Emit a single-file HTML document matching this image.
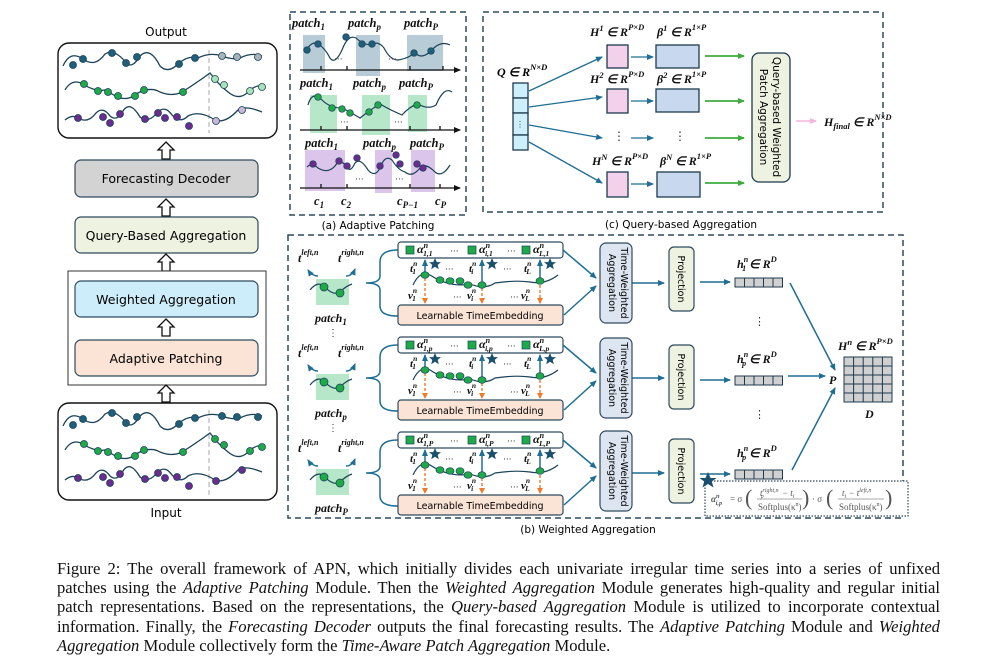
<!DOCTYPE html>
<html><head><meta charset="utf-8"><style>
html,body{margin:0;padding:0;background:#fff;}
#w{position:relative;width:984px;height:669px;overflow:hidden;}
svg{position:absolute;left:0;top:0;}
.cap{position:absolute;left:57px;width:883px;font-family:"Liberation Serif",serif;font-size:16.6px;color:#111;white-space:nowrap;text-align:justify;text-align-last:justify;line-height:19px;}
.cap i{font-style:italic;}
.l{font-family:"DejaVu Sans","Liberation Sans",sans-serif;}
.m{font-family:"Liberation Serif",serif;font-weight:bold;font-style:italic;}
</style></head><body><div id="w">
<svg width="984" height="669" viewBox="0 0 984 669" xmlns="http://www.w3.org/2000/svg">
<defs>
<marker id="ab" markerWidth="8" markerHeight="8" refX="6" refY="3" orient="auto" markerUnits="userSpaceOnUse"><path d="M0,0 L7,3 L0,6 z" fill="#1f6f94"/></marker>
<marker id="ag" markerWidth="8" markerHeight="8" refX="6" refY="3" orient="auto" markerUnits="userSpaceOnUse"><path d="M0,0 L7,3 L0,6 z" fill="#3cab3c"/></marker>
<marker id="ap" markerWidth="8" markerHeight="8" refX="6" refY="3" orient="auto" markerUnits="userSpaceOnUse"><path d="M0,0 L7,3 L0,6 z" fill="#f3b6dc"/></marker>
<marker id="ao" markerWidth="8" markerHeight="8" refX="5" refY="3" orient="auto" markerUnits="userSpaceOnUse"><path d="M0,0 L6,3 L0,6 z" fill="#f07a2a"/></marker>
<marker id="ak" markerWidth="8" markerHeight="8" refX="6" refY="3" orient="auto" markerUnits="userSpaceOnUse"><path d="M0,0 L7,3 L0,6 z" fill="#111"/></marker>
<path id="harrow" d="M0,-9 L8,-1 L4,-1 L4,8 L-4,8 L-4,-1 L-8,-1 z" fill="#fff" stroke="#111" stroke-width="1.3"/>
<path id="star" d="M0,-6 L1.8,-1.9 L6,-1.9 L2.7,0.9 L3.8,5.3 L0,2.7 L-3.8,5.3 L-2.7,0.9 L-6,-1.9 L-1.8,-1.9 z" fill="#1b4f6e"/>
</defs>

<!-- LEFT PANEL -->
<text x="166" y="36" text-anchor="middle" class="l" font-size="12">Output</text>
<rect x="58" y="43" width="219" height="95" rx="11" fill="#fff" stroke="#111" stroke-width="1.4"/>
<line x1="209" y1="50" x2="209" y2="133" stroke="#aaa" stroke-dasharray="5,3"/>
<g fill="none" stroke="#1b4258" stroke-width="1.3">
<path d="M63,66 Q70,50 83,59 Q95,68 105,54 Q115,48 127,64 Q133,68 140,56 Q150,46 160,66 Q168,74 178,64 Q188,55 198,58 Q210,52 222,56 Q232,60 240,58 Q252,52 262,56"/>
<path d="M65,90 Q72,78 83,84 Q95,92 105,90 Q115,96 120,98 Q130,100 136,94 Q150,86 160,92 Q172,97 182,92 Q195,84 210,73 Q218,84 228,92 Q240,102 250,90 Q258,84 265,86"/>
<path d="M65,120 Q72,114 78,118 Q88,124 96,113 Q103,106 110,116 Q117,122 123,111 Q130,100 140,117 Q148,124 158,112 Q165,105 172,115 Q180,124 188,116 Q200,110 215,120 Q225,124 238,110 Q245,105 262,112"/>
</g>
<g stroke="#1b4258" stroke-width="0.8">
<g fill="#1f5f7a"><circle cx="73" cy="65" r="3.5"/><circle cx="83" cy="59" r="3.5"/><circle cx="112" cy="53" r="3.5"/><circle cx="126" cy="63" r="3.5"/><circle cx="137" cy="57" r="3.5"/><circle cx="179" cy="64" r="3.5"/><circle cx="195" cy="58" r="3.5"/></g>
<g fill="#a6b3bd"><circle cx="222" cy="56" r="3.5"/><circle cx="237" cy="57" r="3.5"/><circle cx="258" cy="57" r="3.5"/></g>
<g fill="#1faa4a"><circle cx="84" cy="84" r="3.5"/><circle cx="98" cy="91" r="3.5"/><circle cx="108" cy="92" r="3.5"/><circle cx="118" cy="96" r="3.5"/><circle cx="135" cy="96" r="3.5"/><circle cx="144" cy="90" r="3.5"/><circle cx="183" cy="92" r="3.5"/></g>
<g fill="#a7e3b9"><circle cx="215" cy="79" r="3.5"/><circle cx="224" cy="85" r="3.5"/><circle cx="250" cy="91" r="3.5"/><circle cx="262" cy="87" r="3.5"/></g>
<g fill="#6a2c91"><circle cx="78" cy="118" r="3.5"/><circle cx="103" cy="117" r="3.5"/><circle cx="110" cy="123" r="3.5"/><circle cx="120" cy="114" r="3.5"/><circle cx="145" cy="119" r="3.5"/><circle cx="158" cy="113" r="3.5"/><circle cx="165" cy="118" r="3.5"/><circle cx="177" cy="117" r="3.5"/><circle cx="189" cy="126" r="3.5"/></g>
<g fill="#c9b5da"><circle cx="216" cy="121" r="3.5"/><circle cx="242" cy="110" r="3.5"/></g>
</g>

<use href="#harrow" x="166" y="151"/>
<rect x="75" y="160" width="183" height="37" rx="6" fill="#d3d3d3" stroke="#2e4a5e" stroke-width="1.2"/>
<text x="166" y="183" text-anchor="middle" class="l" font-size="12.5">Forecasting Decoder</text>
<use href="#harrow" x="166" y="208"/>
<rect x="75" y="217" width="183" height="36" rx="6" fill="#eef2e1" stroke="#2e4a5e" stroke-width="1.2"/>
<text x="166" y="240" text-anchor="middle" class="l" font-size="12.5">Query-Based Aggregation</text>
<use href="#harrow" x="166" y="263"/>
<rect x="68" y="271" width="198" height="114" fill="#fff" stroke="#333" stroke-width="1"/>
<rect x="75" y="281" width="183" height="36" rx="6" fill="#cdedfa" stroke="#2e4a5e" stroke-width="1.2"/>
<text x="166" y="304" text-anchor="middle" class="l" font-size="12.5">Weighted Aggregation</text>
<use href="#harrow" x="166" y="328"/>
<rect x="75" y="340" width="183" height="36" rx="6" fill="#fbe3d6" stroke="#2e4a5e" stroke-width="1.2"/>
<text x="166" y="363" text-anchor="middle" class="l" font-size="12.5">Adaptive Patching</text>
<use href="#harrow" x="166" y="394"/>

<rect x="58" y="403" width="219" height="97" rx="11" fill="#fff" stroke="#111" stroke-width="1.4"/>
<line x1="209" y1="410" x2="209" y2="495" stroke="#aaa" stroke-dasharray="5,3"/>
<g transform="translate(0,360)">
<g fill="none" stroke="#1b4258" stroke-width="1.3">
<path d="M63,66 Q70,50 83,59 Q95,68 105,54 Q115,48 127,64 Q133,68 140,56 Q150,46 160,66 Q168,74 178,64 Q188,55 198,58 Q210,52 222,56 Q232,60 240,58 Q252,52 262,56"/>
<path d="M65,90 Q72,78 83,84 Q95,92 105,90 Q115,96 120,98 Q130,100 136,94 Q150,86 160,92 Q172,97 182,92 Q195,84 210,73 Q218,84 228,92 Q240,102 250,90 Q258,84 265,86"/>
<path d="M65,120 Q72,114 78,118 Q88,124 96,113 Q103,106 110,116 Q117,122 123,111 Q130,100 140,117 Q148,124 158,112 Q165,105 172,115 Q180,124 188,116 Q200,110 215,120 Q225,124 238,110 Q245,105 262,112"/>
</g>
<g stroke="#1b4258" stroke-width="0.8">
<g fill="#1f5f7a"><circle cx="73" cy="65" r="3.5"/><circle cx="83" cy="59" r="3.5"/><circle cx="112" cy="53" r="3.5"/><circle cx="126" cy="63" r="3.5"/><circle cx="137" cy="57" r="3.5"/><circle cx="179" cy="64" r="3.5"/><circle cx="195" cy="58" r="3.5"/><circle cx="222" cy="56" r="3.5"/><circle cx="237" cy="57" r="3.5"/><circle cx="258" cy="57" r="3.5"/></g>
<g fill="#1faa4a"><circle cx="84" cy="84" r="3.5"/><circle cx="98" cy="91" r="3.5"/><circle cx="108" cy="92" r="3.5"/><circle cx="118" cy="96" r="3.5"/><circle cx="135" cy="96" r="3.5"/><circle cx="144" cy="90" r="3.5"/><circle cx="183" cy="92" r="3.5"/><circle cx="215" cy="79" r="3.5"/><circle cx="224" cy="85" r="3.5"/><circle cx="250" cy="91" r="3.5"/><circle cx="262" cy="87" r="3.5"/></g>
<g fill="#6a2c91"><circle cx="78" cy="118" r="3.5"/><circle cx="103" cy="117" r="3.5"/><circle cx="110" cy="123" r="3.5"/><circle cx="120" cy="114" r="3.5"/><circle cx="145" cy="119" r="3.5"/><circle cx="158" cy="113" r="3.5"/><circle cx="165" cy="118" r="3.5"/><circle cx="177" cy="117" r="3.5"/><circle cx="189" cy="126" r="3.5"/><circle cx="216" cy="121" r="3.5"/><circle cx="242" cy="110" r="3.5"/></g>
</g></g>
<text x="166" y="517" text-anchor="middle" class="l" font-size="12">Input</text>

<!-- PANEL A -->
<rect x="290" y="12" width="176" height="203" fill="none" stroke="#2e4a5e" stroke-width="1.5" stroke-dasharray="6,4"/>
<text x="378" y="229" text-anchor="middle" class="l" font-size="10.5">(a) Adaptive Patching</text>
<g fill="#b8ccd8"><rect x="303" y="35" width="22" height="38"/><rect x="356" y="35" width="24" height="41"/><rect x="407" y="35" width="36" height="36"/></g>
<g fill="#b5e7c8"><rect x="310" y="95" width="27" height="38"/><rect x="362" y="95" width="28" height="40"/><rect x="408" y="95" width="19" height="37"/></g>
<g fill="#dcc5ea"><rect x="305" y="150" width="40" height="41"/><rect x="375" y="150" width="17" height="43"/><rect x="411" y="150" width="24" height="42"/></g>
<g class="m" font-size="12.5" fill="#111">
<text x="292" y="27">patch<tspan font-size="9" dy="3">1</tspan></text><text x="348" y="27">patch<tspan font-size="9" dy="3">p</tspan></text><text x="404" y="27">patch<tspan font-size="9" dy="3">P</tspan></text>
<text x="300" y="87">patch<tspan font-size="9" dy="3">1</tspan></text><text x="353" y="87">patch<tspan font-size="9" dy="3">p</tspan></text><text x="399" y="87">patch<tspan font-size="9" dy="3">P</tspan></text>
<text x="305" y="147">patch<tspan font-size="9" dy="3">1</tspan></text><text x="363" y="147">patch<tspan font-size="9" dy="3">p</tspan></text><text x="410" y="147">patch<tspan font-size="9" dy="3">P</tspan></text>
<text x="314" y="205">c<tspan font-size="9" dy="3">1</tspan></text><text x="341" y="205">c<tspan font-size="9" dy="3">2</tspan></text><text x="397" y="205">c<tspan font-size="9" dy="3">P−1</tspan></text><text x="435" y="205">c<tspan font-size="9" dy="3">P</tspan></text>
</g>
<g stroke="#111" stroke-width="1.3" fill="none">
<line x1="300" y1="70" x2="460" y2="70" marker-end="url(#ak)"/><line x1="300" y1="130" x2="460" y2="130" marker-end="url(#ak)"/><line x1="300" y1="188" x2="460" y2="188" marker-end="url(#ak)"/>
<path d="M321,66v4M347,66v4M410,66v4M443,66v4M321,126v4M347,126v4M410,126v4M440,126v4M321,184v4M347,184v4M410,184v4M440,184v4"/>
</g>
<g fill="none" stroke="#1b4258" stroke-width="1.2">
<path d="M305,52 Q312,40 318,44 Q325,48 330,58 Q335,65 342,50 Q348,34 356,38 Q362,44 370,45 Q378,40 384,48 Q390,60 398,60 Q410,58 415,52 Q420,60 430,52 Q440,40 450,45"/>
<path d="M308,105 Q312,90 322,100 Q330,108 342,108 Q350,112 360,118 Q370,110 380,104 Q390,110 402,115 Q410,106 418,104 Q428,110 436,105 Q444,86 452,92"/>
<path d="M307,167 Q312,162 318,168 Q328,174 335,166 Q340,158 346,166 Q350,174 355,163 Q360,157 368,170 Q375,178 380,168 Q385,154 392,160 Q398,170 405,172 Q412,178 420,168 Q425,162 435,172 Q442,178 450,165"/>
</g>
<g stroke="#1b4258" stroke-width="0.7">
<g fill="#1f5f7a"><circle cx="307" cy="50" r="3.3"/><circle cx="318" cy="44" r="3.3"/><circle cx="346" cy="37" r="3.3"/><circle cx="362" cy="44" r="3.3"/><circle cx="372" cy="44" r="3.3"/><circle cx="414" cy="53" r="3.3"/><circle cx="431" cy="51" r="3.3"/></g>
<g fill="#1faa4a"><circle cx="318" cy="97" r="3.3"/><circle cx="332" cy="108" r="3.3"/><circle cx="342" cy="109" r="3.3"/><circle cx="350" cy="113" r="3.3"/><circle cx="369" cy="112" r="3.3"/><circle cx="378" cy="105" r="3.3"/><circle cx="417" cy="105" r="3.3"/></g>
<g fill="#6a2c91"><circle cx="313" cy="164" r="3.3"/><circle cx="339" cy="161" r="3.3"/><circle cx="347" cy="166" r="3.3"/><circle cx="357" cy="158" r="3.3"/><circle cx="380" cy="166" r="3.3"/><circle cx="396" cy="155" r="3.3"/><circle cx="400" cy="164" r="3.3"/><circle cx="417" cy="164" r="3.3"/><circle cx="423" cy="168" r="3.3"/></g>
</g>
<g fill="#333" font-size="9" class="l"><text x="334" y="62">···</text><text x="388" y="62">···</text><text x="340" y="125">···</text><text x="394" y="125">···</text><text x="355" y="182">···</text><text x="395" y="182">···</text></g>

<!-- PANEL C -->
<rect x="483" y="12" width="400" height="200" fill="none" stroke="#2e4a5e" stroke-width="1.5" stroke-dasharray="6,4"/>
<text x="681" y="228" text-anchor="middle" class="l" font-size="10.5">(c) Query-based Aggregation</text>
<text x="497" y="76" class="m" font-size="12">Q ∈ R<tspan font-size="8.5" dy="-6">N×D</tspan></text>
<g fill="#cdeffb" stroke="#1b3a4e" stroke-width="1.3"><rect x="513" y="83" width="15" height="15"/><rect x="513" y="98" width="15" height="15"/><rect x="513" y="113" width="15" height="22"/><rect x="513" y="135" width="15" height="15"/></g>
<text x="520" y="127" text-anchor="middle" font-size="8" fill="#333">⋮</text>
<g stroke="#1f6f94" stroke-width="1.3" fill="none" marker-end="url(#ab)">
<line x1="529" y1="91" x2="602" y2="57"/><line x1="529" y1="107" x2="602" y2="97"/><line x1="529" y1="125" x2="602" y2="138"/><line x1="529" y1="142" x2="602" y2="183"/>
<line x1="631" y1="57" x2="653" y2="57"/><line x1="631" y1="101" x2="653" y2="101"/><line x1="631" y1="138" x2="653" y2="138"/><line x1="631" y1="184" x2="653" y2="184"/>
</g>
<g fill="#f3d1ea" stroke="#1b3a4e" stroke-width="1.3"><rect x="607" y="45" width="21" height="23"/><rect x="607" y="89" width="21" height="24"/><rect x="607" y="172" width="21" height="25"/></g>
<g fill="#c8d9ef" stroke="#1b3a4e" stroke-width="1.3"><rect x="656" y="45" width="43" height="23"/><rect x="656" y="89" width="43" height="23"/><rect x="657" y="172" width="43" height="25"/></g>
<g font-size="12" fill="#333"><text x="613" y="140">⋮</text><text x="674" y="140">⋮</text></g>
<g class="m" font-size="12" fill="#111">
<text x="590" y="36">H<tspan font-size="8.5" dy="-5">1</tspan><tspan dy="5"> ∈ R</tspan><tspan font-size="8.5" dy="-6">P×D</tspan></text>
<text x="657" y="36">β<tspan font-size="8.5" dy="-5">1</tspan><tspan dy="5"> ∈ R</tspan><tspan font-size="8.5" dy="-6">1×P</tspan></text>
<text x="590" y="83">H<tspan font-size="8.5" dy="-5">2</tspan><tspan dy="5"> ∈ R</tspan><tspan font-size="8.5" dy="-6">P×D</tspan></text>
<text x="657" y="83">β<tspan font-size="8.5" dy="-5">2</tspan><tspan dy="5"> ∈ R</tspan><tspan font-size="8.5" dy="-6">1×P</tspan></text>
<text x="592" y="165">H<tspan font-size="8.5" dy="-5">N</tspan><tspan dy="5"> ∈ R</tspan><tspan font-size="8.5" dy="-6">P×D</tspan></text>
<text x="660" y="165">β<tspan font-size="8.5" dy="-5">N</tspan><tspan dy="5"> ∈ R</tspan><tspan font-size="8.5" dy="-6">1×P</tspan></text>
<text x="824" y="126">H<tspan font-size="8.5" dy="3">final</tspan><tspan dy="-3"> ∈ R</tspan><tspan font-size="8.5" dy="-6">N×D</tspan></text>
</g>
<g stroke="#3cab3c" stroke-width="1.8" marker-end="url(#ag)"><line x1="705" y1="56" x2="744" y2="56"/><line x1="705" y1="101" x2="744" y2="101"/><line x1="705" y1="138" x2="744" y2="138"/><line x1="705" y1="183" x2="744" y2="183"/></g>
<rect x="752" y="53" width="38" height="129" rx="7" fill="#eef2e1" stroke="#1b3a4e" stroke-width="1.3"/>
<text transform="translate(773,117) rotate(90)" text-anchor="middle" class="l" font-size="10.5">Query-based Weighted</text>
<text transform="translate(760,117) rotate(90)" text-anchor="middle" class="l" font-size="10.5">Patch Aggregation</text>
<line x1="796" y1="121" x2="816" y2="121" stroke="#f3b6dc" stroke-width="1.5" marker-end="url(#ap)"/>

<!-- PANEL B -->
<rect x="288" y="235" width="615" height="283" fill="none" stroke="#2e4a5e" stroke-width="1.5" stroke-dasharray="6,4"/>
<text x="588" y="533" text-anchor="middle" class="l" font-size="10.5">(b) Weighted Aggregation</text>

<g id="row">
<g class="m" font-size="12" fill="#111">
<text x="298" y="262">t<tspan font-size="8" dy="-7">left,n</tspan></text>
<text x="338" y="262">t<tspan font-size="8" dy="-7">right,n</tspan></text>
</g>
<g stroke="#1f6f94" stroke-width="1.5" fill="none" marker-end="url(#ab)"><path d="M318,276 Q312,276 308,270"/><path d="M346,276 Q352,276 355,269"/></g>
<rect x="316" y="279" width="33" height="26" fill="#b5e7c8"/>
<path d="M310,290 Q318,280 325,287 Q333,296 340,292 Q346,286 352,284" fill="none" stroke="#1b4258" stroke-width="1.2"/>
<path d="M398,250 Q380,250 380,262 L380,276 Q380,283 366,283 Q380,283 380,290 L380,306 Q380,316 398,316" fill="none" stroke="#1f6f94" stroke-width="1.5"/>
<rect x="398" y="242" width="165" height="16" rx="3" fill="#fff" stroke="#2e4a5e" stroke-width="1.2"/>
<g fill="#1faa4a" stroke="#1b4258" stroke-width="0.7"><rect x="406" y="246" width="8" height="8"/><rect x="468" y="246" width="8" height="8"/><rect x="522" y="246" width="8" height="8"/></g>
<g font-size="9" fill="#333" class="l"><text x="450" y="254">···</text><text x="507" y="254">···</text><text x="445" y="272">···</text><text x="503" y="272">···</text><text x="453" y="300">···</text><text x="510" y="300">···</text></g>
<path d="M413,285 Q420,270 430,275 Q450,288 470,284 Q485,290 495,283 Q515,280 530,282 Q545,285 558,275" fill="none" stroke="#1b4258" stroke-width="1.2"/>
<g stroke="#1f6f94" stroke-width="1.5" marker-end="url(#ab)"><line x1="425" y1="274" x2="425" y2="260"/><line x1="482" y1="284" x2="482" y2="260"/><line x1="540" y1="281" x2="540" y2="260"/></g>
<g stroke="#f07a2a" stroke-width="1.4" stroke-dasharray="3,2" marker-end="url(#ao)"><line x1="425" y1="278" x2="425" y2="303"/><line x1="482" y1="288" x2="482" y2="303"/><line x1="540" y1="285" x2="540" y2="303"/></g>
<g fill="#1faa4a" stroke="#1b4258" stroke-width="0.7"><ellipse cx="425" cy="275" rx="4" ry="3.3"/><ellipse cx="440" cy="280" rx="4" ry="3.3"/><ellipse cx="450" cy="281" rx="4" ry="3.3"/><ellipse cx="460" cy="281" rx="4" ry="3.3"/><ellipse cx="468" cy="285" rx="4" ry="3.3"/><ellipse cx="482" cy="285" rx="4" ry="3.3"/><ellipse cx="540" cy="281" rx="4" ry="3.3"/></g>
<g fill="#1faa4a" stroke="#1b4258" stroke-width="0.7"><circle cx="324" cy="287" r="4"/><circle cx="340" cy="293" r="4"/></g>
<use href="#star" x="435" y="264"/><use href="#star" x="492" y="264"/><use href="#star" x="550" y="264"/>
<rect x="398" y="305" width="165" height="20" rx="3" fill="#fbe3d6" stroke="#2e4a5e" stroke-width="1.2"/>
<text x="480" y="319" text-anchor="middle" class="l" font-size="9.5">Learnable TimeEmbedding</text>
<g class="m" font-size="11" fill="#111">
<text x="410" y="272">t<tspan font-size="7.5" dy="-6">n</tspan><tspan font-size="7.5" dx="-5" dy="8">1</tspan></text>
<text x="469" y="272">t<tspan font-size="7.5" dy="-6">n</tspan><tspan font-size="7.5" dx="-5" dy="8">i</tspan></text>
<text x="524" y="272">t<tspan font-size="7.5" dy="-6">n</tspan><tspan font-size="7.5" dx="-5" dy="8">L</tspan></text>
<text x="408" y="299">v<tspan font-size="7.5" dy="-6">n</tspan><tspan font-size="7.5" dx="-5" dy="8">1</tspan></text>
<text x="467" y="299">v<tspan font-size="7.5" dy="-6">n</tspan><tspan font-size="7.5" dx="-5" dy="8">i</tspan></text>
<text x="521" y="299">v<tspan font-size="7.5" dy="-6">n</tspan><tspan font-size="7.5" dx="-5" dy="8">L</tspan></text>
</g>
<g stroke="#1f6f94" stroke-width="1.5" fill="none" marker-end="url(#ab)"><line x1="563" y1="250" x2="596" y2="278"/><line x1="564" y1="315" x2="596" y2="286"/><line x1="632" y1="283" x2="664" y2="283"/></g>
</g>
<use href="#row" y="95"/>
<use href="#row" y="190"/>

<!-- row labels -->
<g class="m" font-size="12" fill="#111">
<text x="417" y="253">α<tspan font-size="8" dy="-5">n</tspan><tspan font-size="7.5" dx="-5" dy="8">1,1</tspan></text>
<text x="479" y="253">α<tspan font-size="8" dy="-5">n</tspan><tspan font-size="7.5" dx="-5" dy="8">i,1</tspan></text>
<text x="533" y="253">α<tspan font-size="8" dy="-5">n</tspan><tspan font-size="7.5" dx="-5" dy="8">L,1</tspan></text>
<text x="417" y="348">α<tspan font-size="8" dy="-5">n</tspan><tspan font-size="7.5" dx="-5" dy="8">1,p</tspan></text>
<text x="479" y="348">α<tspan font-size="8" dy="-5">n</tspan><tspan font-size="7.5" dx="-5" dy="8">i,p</tspan></text>
<text x="533" y="348">α<tspan font-size="8" dy="-5">n</tspan><tspan font-size="7.5" dx="-5" dy="8">L,p</tspan></text>
<text x="417" y="443">α<tspan font-size="8" dy="-5">n</tspan><tspan font-size="7.5" dx="-5" dy="8">1,P</tspan></text>
<text x="479" y="443">α<tspan font-size="8" dy="-5">n</tspan><tspan font-size="7.5" dx="-5" dy="8">i,P</tspan></text>
<text x="533" y="443">α<tspan font-size="8" dy="-5">n</tspan><tspan font-size="7.5" dx="-5" dy="8">L,P</tspan></text>
<text x="315" y="322">patch<tspan font-size="9" dy="3">1</tspan></text>
<text x="315" y="417">patch<tspan font-size="9" dy="3">p</tspan></text>
<text x="315" y="512">patch<tspan font-size="9" dy="3">P</tspan></text>
</g>
<g font-size="10" fill="#333"><text x="328" y="336">⋮</text><text x="328" y="431">⋮</text></g>

<g id="twa">
<rect x="600" y="243" width="32" height="80" rx="6" fill="#dde5f0" stroke="#2e4a5e" stroke-width="1.2"/>
<text transform="translate(621,283) rotate(90)" text-anchor="middle" class="l" font-size="9.5">Time-Weighted</text>
<text transform="translate(609,283) rotate(90)" text-anchor="middle" class="l" font-size="9.5">Aggregation</text>
</g>
<use href="#twa" y="95"/><use href="#twa" y="188"/>

<g id="proj">
<rect x="669" y="247" width="25" height="64" rx="5" fill="#eef2e1" stroke="#2e4a5e" stroke-width="1.2"/>
<text transform="translate(678,279) rotate(90)" text-anchor="middle" class="l" font-size="9.5">Projection</text>
<line x1="700" y1="282" x2="730" y2="282" stroke="#1f6f94" stroke-width="1.5" marker-end="url(#ab)"/>
<g fill="#d0d0d0" stroke="#1b3a4e" stroke-width="1"><rect x="735" y="278" width="9.5" height="9"/><rect x="744.5" y="278" width="9.5" height="9"/><rect x="754" y="278" width="9.5" height="9"/><rect x="763.5" y="278" width="9.5" height="9"/><rect x="773" y="278" width="9.5" height="9"/></g>
</g>
<use href="#proj" y="98"/><use href="#proj" y="192"/>
<g class="m" font-size="12" fill="#111">
<text x="737" y="268">h<tspan font-size="8" dy="-6">n</tspan><tspan font-size="8" dx="-6" dy="9">1</tspan><tspan dy="-3"> ∈ R</tspan><tspan font-size="8.5" dy="-6">D</tspan></text>
<text x="737" y="363">h<tspan font-size="8" dy="-6">n</tspan><tspan font-size="8" dx="-6" dy="9">p</tspan><tspan dy="-3"> ∈ R</tspan><tspan font-size="8.5" dy="-6">D</tspan></text>
<text x="737" y="457">h<tspan font-size="8" dy="-6">n</tspan><tspan font-size="8" dx="-6" dy="9">p</tspan><tspan dy="-3"> ∈ R</tspan><tspan font-size="8.5" dy="-6">D</tspan></text>
<text x="838" y="350">H<tspan font-size="8.5" dy="-5">n</tspan><tspan dy="5"> ∈ R</tspan><tspan font-size="8.5" dy="-6">P×D</tspan></text>
<text x="829" y="384">P</text><text x="865" y="418">D</text>
</g>
<g font-size="11" fill="#333"><text x="754" y="325">⋮</text><text x="754" y="418">⋮</text></g>
<g stroke="#1f6f94" stroke-width="1.5" marker-end="url(#ab)"><line x1="790" y1="283" x2="835" y2="370"/><line x1="788" y1="376" x2="825" y2="376"/><line x1="792" y1="470" x2="835" y2="388"/></g>
<g fill="#d0d0d0" stroke="#1b3a4e" stroke-width="1">
<rect x="844" y="357" width="48" height="45"/>
<path d="M853.6,357V402M863.2,357V402M872.8,357V402M882.4,357V402M844,366H892M844,375H892M844,384H892M844,393H892"/>
</g>
<rect x="705" y="481" width="203" height="35" fill="#fff" stroke="#2e4a5e" stroke-width="1.2" stroke-dasharray="1.5,1.5"/>
<path d="M708,472 L710.5,478 L716.5,478 L711.8,481.5 L713.5,487.5 L708,484 L702.5,487.5 L704.2,481.5 L699.5,478 L705.5,478 z" fill="#1b4f6e"/>
<g font-family="Liberation Serif,serif" fill="#555" font-size="9">
<text x="711" y="502" font-style="italic" font-weight="bold">α<tspan font-size="6.5" dy="-4">n</tspan><tspan font-size="6.5" dx="-4" dy="7">i,p</tspan></text>
<text x="730" y="502">= σ</text>
<text x="745" y="505" font-size="22">(</text>
<text x="760" y="496" font-style="italic">t<tspan font-size="6" dy="-4">right,n</tspan><tspan font-size="6" dx="-18" dy="6">p</tspan><tspan dx="16" dy="-2"> − t</tspan><tspan font-size="6" dy="2">i</tspan></text>
<line x1="757" y1="499" x2="802" y2="499" stroke="#555" stroke-width="0.6"/>
<text x="758" y="510">Softplus(κ<tspan font-size="6" dy="-4">n</tspan><tspan dy="4">)</tspan></text>
<text x="802" y="505" font-size="22">)</text>
<text x="812" y="502">· σ</text>
<text x="826" y="505" font-size="22">(</text>
<text x="842" y="496" font-style="italic">t<tspan font-size="6" dy="2">i</tspan><tspan dy="-2"> − t</tspan><tspan font-size="6" dy="-4">left,n</tspan></text>
<line x1="838" y1="499" x2="884" y2="499" stroke="#555" stroke-width="0.6"/>
<text x="839" y="510">Softplus(κ<tspan font-size="6" dy="-4">n</tspan><tspan dy="4">)</tspan></text>
<text x="885" y="505" font-size="22">)</text>
</g>
</svg>

<div class="cap" style="top:559px">Figure 2: The overall framework of APN, which initially divides each univariate irregular time series into a series of unfixed</div>
<div class="cap" style="top:578px">patches using the <i>Adaptive Patching</i> Module. Then the <i>Weighted Aggregation</i> Module generates high-quality and regular initial</div>
<div class="cap" style="top:597px">patch representations. Based on the representations, the <i>Query-based Aggregation</i> Module is utilized to incorporate contextual</div>
<div class="cap" style="top:617px">information. Finally, the <i>Forecasting Decoder</i> outputs the final forecasting results. The <i>Adaptive Patching</i> Module and <i>Weighted</i></div>
<div class="cap" style="top:636px;text-align-last:left;width:auto"><i>Aggregation</i> Module collectively form the <i>Time-Aware Patch Aggregation</i> Module.</div>
</div></body></html>
